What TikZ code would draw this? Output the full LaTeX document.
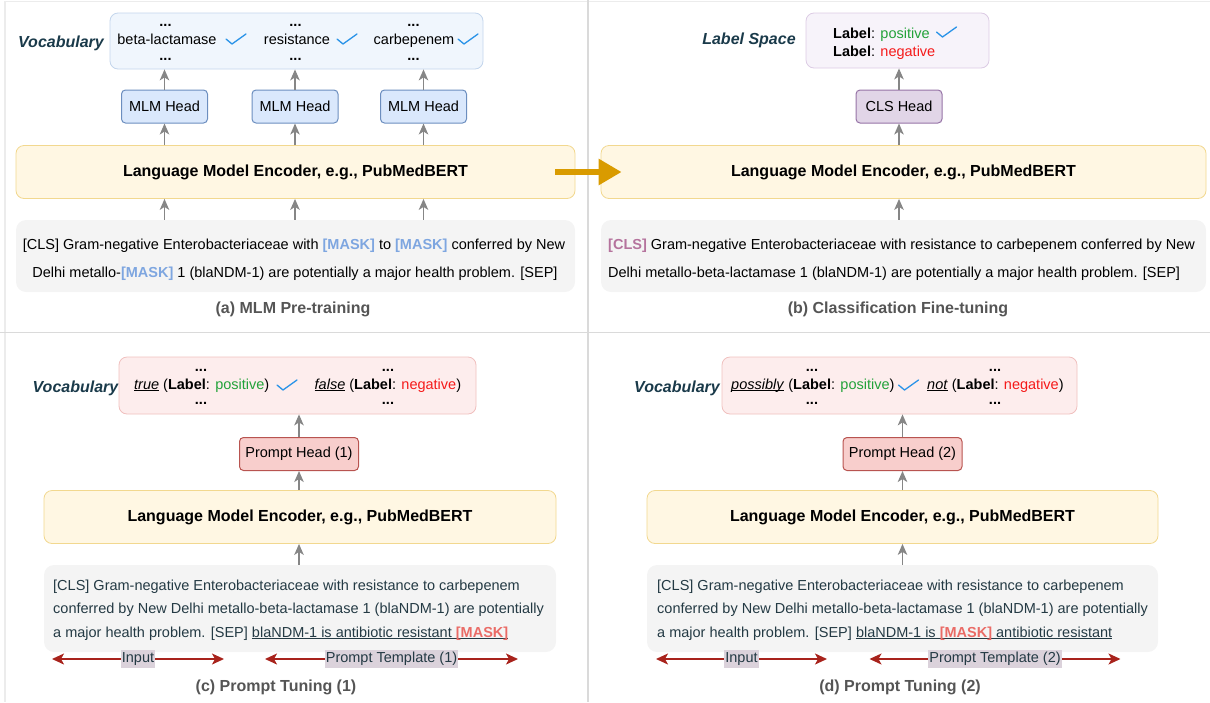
\documentclass[tikz,border=0pt]{standalone}
\usepackage{fontspec}
\setmainfont{Liberation Sans}
\usetikzlibrary{arrows.meta,positioning}

\definecolor{vocabfill}{HTML}{F0F6FD}
\definecolor{vocabline}{HTML}{C3D5EC}
\definecolor{mlmfill}{HTML}{DAE8FC}
\definecolor{mlmline}{HTML}{6C8EBF}
\definecolor{encfill}{HTML}{FFF7E3}
\definecolor{encline}{HTML}{F2D88F}
\definecolor{inputfill}{HTML}{F4F4F4}
\definecolor{labelfill}{HTML}{F7F3FA}
\definecolor{labelline}{HTML}{DCCBE4}
\definecolor{clsfill}{HTML}{E1D5E7}
\definecolor{clsline}{HTML}{9673A6}
\definecolor{verbfill}{HTML}{FDEDED}
\definecolor{verbline}{HTML}{F0C0BE}
\definecolor{promptfill}{HTML}{F8CECC}
\definecolor{promptline}{HTML}{B85450}
\definecolor{maskblue}{HTML}{7EA6E0}
\definecolor{maskred}{HTML}{EA6B66}
\definecolor{clspink}{HTML}{B5739D}
\definecolor{posgreen}{HTML}{23A23A}
\definecolor{negred}{HTML}{F51A1A}
\definecolor{tickblue}{HTML}{2A93E8}
\definecolor{titleslate}{HTML}{1A3A4A}
\definecolor{slatetext}{HTML}{243A44}
\definecolor{captiongray}{HTML}{555555}
\definecolor{arrowgray}{HTML}{868686}
\definecolor{spanred}{HTML}{A8231C}
\definecolor{spanfill}{HTML}{DBD2DB}
\definecolor{handoffgold}{HTML}{D99B00}
\definecolor{rulegray}{HTML}{DADADA}

\newcommand{\mlmmask}{\textcolor{maskblue}{\textbf{[MASK]}}}
\newcommand{\promptmask}{\textcolor{maskred}{\textbf{[MASK]}}}
\newcommand{\lblpos}{\textbf{Label}: \textcolor{posgreen}{positive}}
\newcommand{\lblneg}{\textbf{Label}: \textcolor{negred}{negative}}
% thicker underline than \underline gives
\newcommand{\ulword}[1]{\setbox0\hbox{#1}\rlap{\rule[-2.4pt]{\wd0}{1.1pt}}\box0\relax}

\tikzset{
  every node/.style={font=\fontsize{14.5}{17}\selectfont, inner sep=0pt},
  vocabbox/.style={draw=vocabline, fill=vocabfill, rounded corners=8pt, line width=0.8pt, minimum height=56pt},
  labelbox/.style={draw=labelline, fill=labelfill, rounded corners=8pt, line width=0.8pt, minimum height=55pt},
  verbbox/.style={draw=verbline, fill=verbfill, rounded corners=8pt, line width=0.8pt, minimum height=57pt},
  headbox/.style={draw, rounded corners=4pt, line width=1pt, minimum height=33pt},
  mlmhead/.style={headbox, draw=mlmline, fill=mlmfill, minimum width=86pt},
  clshead/.style={headbox, draw=clsline, fill=clsfill, minimum width=86pt},
  prompthead/.style={headbox, draw=promptline, fill=promptfill, minimum width=119pt},
  encoder/.style={draw=encline, fill=encfill, rounded corners=8pt, line width=0.8pt,
    minimum height=53pt, font=\fontsize{16}{19}\selectfont\bfseries},
  inputbox/.style={fill=inputfill, rounded corners=10pt, minimum height=72pt},
  bodytext/.style={font=\fontsize{14.5}{17}\selectfont},
  slatebody/.style={bodytext, text=slatetext, anchor=base west},
  sidetitle/.style={font=\fontsize{16}{19}\selectfont\bfseries\itshape, text=titleslate},
  caption/.style={font=\fontsize{16}{19}\selectfont\bfseries, text=captiongray},
  dots/.style={font=\fontsize{14.5}{17}\selectfont\bfseries, anchor=base},
  uparrow/.style={draw=arrowgray, line width=1.4pt, -{Stealth[length=11pt, width=9.5pt, inset=3pt]}},
  spanarrow/.style={draw=spanred, line width=1.5pt,
    {Stealth[length=12pt, width=11pt, inset=3pt]}-{Stealth[length=12pt, width=11pt, inset=3pt]}},
  spanlabel/.style={fill=spanfill, text=slatetext, inner xsep=1pt, inner ysep=2.5pt},
  handoff/.style={draw=handoffgold, line width=6pt, -{Triangle[length=23pt, width=25pt]}},
  divider/.style={draw=rulegray, line width=1.2pt},
  framefaint/.style={draw=rulegray!50, line width=1.2pt},
  checkmark/.pic={\draw[tickblue, line width=1.3pt, line cap=round, line join=round]
    (-10,0) -- (-4,5) -- (10,-5);}
}

\begin{document}
\begin{tikzpicture}[x=1pt, y=-1pt]
\useasboundingbox (0,0) rectangle (1210,702);

% faint frame and the cross between the four panels
\draw[framefaint] (5,702) -- (5,1.5) -- (1210,1.5);
\draw[divider] (588,0) -- (588,702);
\draw[divider] (0,332.5) -- (1210,332.5);

%% (a) MLM pre-training
\node[vocabbox, minimum width=373pt] (vocabA) at (296.5,41) {};
\node[sidetitle] (vocabTitleA) at (61,43) {Vocabulary};
\node[encoder, minimum width=559pt] (encA) at (295.5,172) {Language Model Encoder, e.g., PubMedBERT};
\node[inputbox, minimum width=559pt] (inputA) at (295.5,256) {};
\node[bodytext, anchor=base] (inputA1) at (294,249)
  {[CLS] Gram-negative Enterobacteriaceae with \mlmmask{} to \mlmmask{} conferred by New};
\node[bodytext, anchor=base] (inputA2) at (295,277)
  {Delhi metallo-\mlmmask{} 1 (blaNDM-1) are potentially a major health problem. [SEP]};
\node[caption] (capA) at (293,309) {(a) MLM Pre-training};

\foreach \n/\hx/\wx/\cx/\dx/\word in {1/164.5/167/236/165.5/beta-lactamase,
    2/295/297/347/295.5/resistance, 3/423.5/414/468/413.5/carbepenem}{
  \node[mlmhead] (headA\n) at (\hx,106.5) {MLM Head};
  \node[bodytext, anchor=base] (wordA\n) at (\wx,44) {\word};
  \node[dots] at (\dx,26) {...};
  \node[dots] at (\dx,60) {...};
  \pic at (\cx,39) {checkmark};
  \draw[uparrow] (inputA.north -| headA\n) -- (encA.south -| headA\n);
  \draw[uparrow] (encA.north -| headA\n) -- (headA\n.south);
  \draw[uparrow] (headA\n.north) -- (headA\n.north |- vocabA.south);
}

%% (b) classification fine-tuning
\node[sidetitle] (labelTitleB) at (749,40) {Label Space};
\node[labelbox, minimum width=183pt] (labelB) at (897.5,40.5) {};
\node[bodytext, anchor=base west] (labelB1) at (833,38) {\lblpos};
\node[bodytext, anchor=base west] (labelB2) at (833,56) {\lblneg};
\pic at (946.5,32) {checkmark};
\node[clshead] (headB) at (899,106.5) {CLS Head};
\node[encoder, minimum width=605pt] (encB) at (903.5,172) {Language Model Encoder, e.g., PubMedBERT};
\node[inputbox, minimum width=605pt] (inputB) at (903.5,256) {};
\node[bodytext, anchor=base west] (inputB1) at (608,249)
  {\textcolor{clspink}{\textbf{[CLS]}} Gram-negative Enterobacteriaceae with resistance to carbepenem conferred by New};
\node[bodytext, anchor=base west] (inputB2) at (608,277)
  {Delhi metallo-beta-lactamase 1 (blaNDM-1) are potentially a major health problem. [SEP]};
\node[caption] (capB) at (898,309) {(b) Classification Fine-tuning};
\draw[uparrow] (inputB.north -| headB) -- (encB.south -| headB);
\draw[uparrow] (encB.north -| headB) -- (headB.south);
\draw[uparrow] (headB.north) -- (headB.north |- labelB.south);

% the pre-trained encoder is carried over
\draw[handoff] ([xshift=-20pt]encA.east) -- ([xshift=21pt]encB.west);

%% (c) prompt tuning (1)
\node[sidetitle] (vocabTitleC) at (75.5,388) {Vocabulary};
\node[verbbox, minimum width=357pt] (vocabC) at (297.5,385.5) {};
\node[bodytext, anchor=base west] (verbC1) at (134,389) {\ulword{\textit{true}} (\lblpos)};
\node[bodytext, anchor=base west] (verbC2) at (314.5,389) {\ulword{\textit{false}} (\lblneg)};
\foreach \dx in {201,388}{
  \node[dots] at (\dx,371) {...};
  \node[dots] at (\dx,404) {...};
}
\pic at (287,385) {checkmark};
\node[prompthead] (headC) at (299,454) {Prompt Head (1)};
\node[encoder, minimum width=512pt] (encC) at (300,517) {Language Model Encoder, e.g., PubMedBERT};
\node[inputbox, minimum width=512pt, minimum height=87pt] (inputC) at (300,608.5) {};
\node[slatebody] (inputC1) at (53,590) {[CLS] Gram-negative Enterobacteriaceae with resistance to carbepenem};
\node[slatebody] (inputC2) at (53,613) {conferred by New Delhi metallo-beta-lactamase 1 (blaNDM-1) are potentially};
\node[slatebody] (inputC3) at (53,637) {a major health problem. [SEP] \ulword{blaNDM-1 is antibiotic resistant \promptmask}};
\coordinate (inC0) at (52,659);
\coordinate (inC1) at (224,659);
\coordinate (tplC0) at (265,659);
\coordinate (tplC1) at (518,659);
\draw[spanarrow] (inC0) -- node[spanlabel] (inLblC) {Input} (inC1);
\draw[spanarrow] (tplC0) -- node[spanlabel] (tplLblC) {Prompt Template (1)} (tplC1);
\node[caption] (capC) at (276,687) {(c) Prompt Tuning (1)};
\draw[uparrow] (inputC.north -| headC) -- (encC.south -| headC);
\draw[uparrow] (encC.north -| headC) -- (headC.south);
\draw[uparrow] (headC.north) -- (headC.north |- vocabC.south);

%% (d) prompt tuning (2)
\node[sidetitle] (vocabTitleD) at (677,388) {Vocabulary};
\node[verbbox, minimum width=355pt] (vocabD) at (899.5,385.5) {};
\node[bodytext, anchor=base west] (verbD1) at (731,389) {\ulword{\textit{possibly}} (\lblpos)};
\node[bodytext, anchor=base west] (verbD2) at (927,389) {\ulword{\textit{not}} (\lblneg)};
\foreach \dx in {812,995}{
  \node[dots] at (\dx,371) {...};
  \node[dots] at (\dx,404) {...};
}
\pic at (908.5,385) {checkmark};
\node[prompthead] (headD) at (902.5,454) {Prompt Head (2)};
\node[encoder, minimum width=511pt] (encD) at (902.5,517) {Language Model Encoder, e.g., PubMedBERT};
\node[inputbox, minimum width=511pt, minimum height=87pt] (inputD) at (902.5,608.5) {};
\node[slatebody] (inputD1) at (657,590) {[CLS] Gram-negative Enterobacteriaceae with resistance to carbepenem};
\node[slatebody] (inputD2) at (657,613) {conferred by New Delhi metallo-beta-lactamase 1 (blaNDM-1) are potentially};
\node[slatebody] (inputD3) at (657,637) {a major health problem. [SEP] \ulword{blaNDM-1 is \promptmask{} antibiotic resistant}};
\coordinate (inD0) at (656,659);
\coordinate (inD1) at (827,659);
\coordinate (tplD0) at (869.5,659);
\coordinate (tplD1) at (1120.5,659);
\draw[spanarrow] (inD0) -- node[spanlabel] (inLblD) {Input} (inD1);
\draw[spanarrow] (tplD0) -- node[spanlabel] (tplLblD) {Prompt Template (2)} (tplD1);
\node[caption] (capD) at (900,687) {(d) Prompt Tuning (2)};
\draw[uparrow] (inputD.north -| headD) -- (encD.south -| headD);
\draw[uparrow] (encD.north -| headD) -- (headD.south);
\draw[uparrow] (headD.north) -- (headD.north |- vocabD.south);
\end{tikzpicture}
\end{document}
